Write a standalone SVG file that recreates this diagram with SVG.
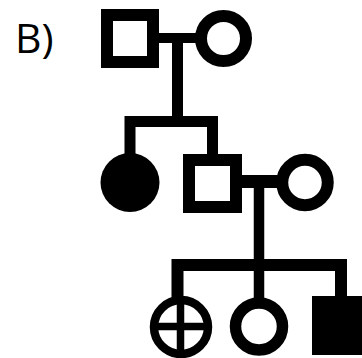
<svg xmlns="http://www.w3.org/2000/svg" width="362" height="358" viewBox="0 0 362 358">
<style>
.o{fill:none;stroke:#000;stroke-width:12}
.f{fill:#000;stroke:none}
.c{fill:none;stroke:#000;stroke-linejoin:miter;stroke-linecap:butt}
.t{font-family:"Open Sans","Liberation Sans",sans-serif;font-size:41px;fill:#000}
</style>
<rect width="362" height="358" fill="#fff"/>
<text class="t" x="15" y="53">B)</text>
<g id="connectors">
<path class="c" stroke-width="10" d="M158,38 H196"/>
<path class="c" stroke-width="11" d="M177.5,38 V121.5"/>
<path class="c" stroke-width="11" d="M130,154 V121.5 H212.5 V155"/>
<path class="c" stroke-width="13" d="M241,181.5 H278"/>
<path class="c" stroke-width="10.5" d="M259,181.5 V298"/>
<path class="c" stroke-width="12" d="M177.5,298 V265 H341 V297"/>
</g>
<g id="i1"><rect class="o" x="107" y="15" width="46" height="47"/></g>
<g id="i2"><circle class="o" cx="223.5" cy="38.5" r="22.5"/></g>
<g id="ii1"><circle class="f" cx="130" cy="182.5" r="29.5"/></g>
<g id="ii2"><rect class="o" x="189" y="160" width="47" height="47"/></g>
<g id="ii3"><circle class="o" cx="305" cy="182.5" r="22.75" stroke-width="11.5"/></g>
<g id="iii1">
<circle cx="181" cy="327" r="27" fill="none" stroke="#000" stroke-width="8.5"/>
<path d="M154,326.5 H208 M180.5,300 V354" stroke="#000" stroke-width="7.5" fill="none"/>
</g>
<g id="iii2"><circle cx="259" cy="326.5" r="23.5" fill="none" stroke="#000" stroke-width="11.5"/></g>
<g id="iii3"><rect class="f" x="312" y="296" width="58" height="59"/></g>
</svg>
